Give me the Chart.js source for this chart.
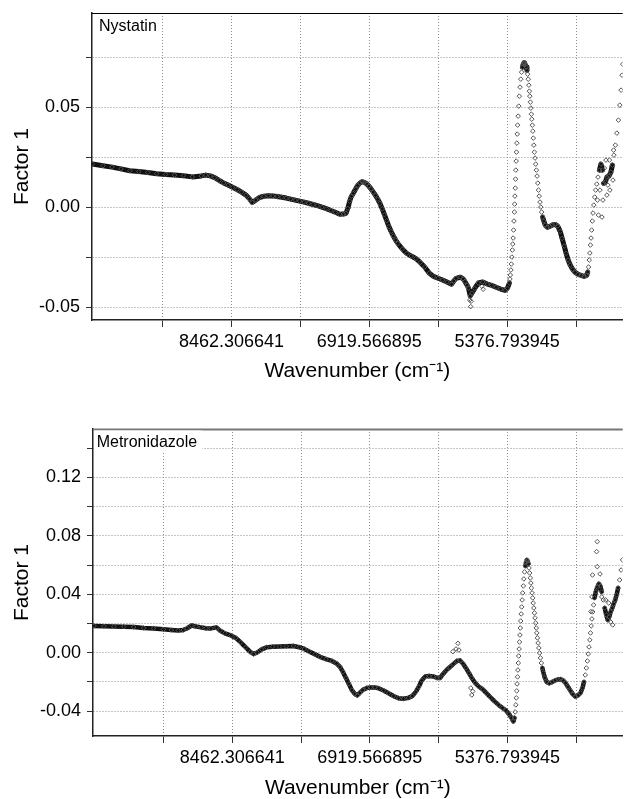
<!DOCTYPE html>
<html><head><meta charset="utf-8">
<script src="https://cdn.jsdelivr.net/npm/chart.js@4.4.0/dist/chart.umd.min.js"></script>
<style>
html,body{margin:0;padding:0;background:#fff;width:626px;height:799px;overflow:hidden}
#c1{position:absolute;left:0;top:0}
#c2{position:absolute;left:0;top:400px}
</style></head><body>
<canvas id="c1" width="626" height="400"></canvas>
<canvas id="c2" width="626" height="399"></canvas>
<script>
// ---------------- data ----------------
const xTickValues = [4605.424072, 5376.793945, 6148.18042, 6919.566895, 7690.936768, 8462.306641, 9233.676514];
const xTickLabels = ['', '5376.793945', '', '6919.566895', '', '8462.306641', ''];

const nystatinYTicks  = [-0.05, -0.025, 0, 0.025, 0.05, 0.075];
const nystatinYLabels = ['-0.05', '', '0.00', '', '0.05', ''];
const metronidazoleYTicks  = [-0.04, -0.02, 0, 0.02, 0.04, 0.06, 0.08, 0.10, 0.12, 0.14];
const metronidazoleYLabels = ['-0.04', '', '0.00', '', '0.04', '', '0.08', '', '0.12', ''];

const nystatinWavenumber = [
 10020,9900,9800,9700,9600,9500,9400,9300,9200,9100,9000,8900,8800,8750,8700,8650,8600,8550,8500,8450,
 8400,8350,8300,8260,8230,8190,8150,8100,8050,8000,7950,7900,7850,7800,7750,7700,7650,7600,7550,7500,
 7450,7400,7350,7300,7250,7210,7180,7160,7140,7120,7100,7075,7050,7025,7000,6975,6950,6925,6900,6875,
 6850,6825,6800,6775,6750,6725,6700,6675,6650,6625,6600,6550,6500,6450,6400,6350,6300,6250,6200,6150,
 6100,6050,6000,5975,5950,5900,5870,5850,5825,5810,5790,5770,5740,5700,5650,5600,5550,5500,5450,5400,
 5375,5352,5346,5341,5335,5330,5324,5319,5314,5310,5305,5301,5296,5293,5290,5286,5283,5280,5276,5273,
 5268,5264,5260,5254,5247,5241,5233,5224,5215,5205,5196,5188,5182,5174,5163,5155,5148,5141,5134,5128,
 5123,5117,5112,5106,5101,5095,5090,5084,5078,5072,5065,5057,5050,5042,5034,5026,5018,5009,5000,4991,
 4980,4966,4950,4927,4899,4872,4839,4811,4783,4761,4738,4716,4694,4671,4643,4616,4582,4549,4516,4488,
 4475,4466,4458,4451,4445,4438,4431,4424,4416,4407,4397,4386,4374,4360,4344,4327,4310,4297,4277,4260,
 4238,4216,4199,4182,4166,4149,4132,4116,4102,4091,4083];
const nystatinFactor = [
 0.0217,0.0208,0.0201,0.0192,0.0183,0.0179,0.0174,0.0168,0.0164,0.0161,0.0158,0.0152,0.0157,0.0161,0.0157,0.0148,0.0134,0.0122,0.0111,0.0100,
 0.0089,0.0076,0.0061,0.0042,0.0024,0.0036,0.0049,0.0055,0.0058,0.0057,0.0054,0.0050,0.0046,0.0041,0.0036,0.0031,0.0026,0.0020,0.0014,0.0008,
 0.0001,-0.0007,-0.0016,-0.0025,-0.0035,-0.0034,-0.0030,-0.0005,0.0030,0.0055,0.0069,0.0090,0.0109,0.0121,0.0128,0.0125,0.0117,0.0106,0.0092,0.0076,
 0.0059,0.0040,0.0019,-0.0008,-0.0037,-0.0067,-0.0097,-0.0121,-0.0144,-0.0164,-0.0181,-0.0209,-0.0231,-0.0244,-0.0256,-0.0276,-0.0299,-0.0329,-0.0346,-0.0355,
 -0.0364,-0.0374,-0.0385,-0.0369,-0.0356,-0.0350,-0.0358,-0.0371,-0.0390,-0.0404,-0.0444,-0.0429,-0.0406,-0.0379,-0.0374,-0.0384,-0.0391,-0.0400,-0.0409,-0.0416,
 -0.0406,-0.0379,-0.0359,-0.0339,-0.0314,-0.0284,-0.0249,-0.0214,-0.0184,-0.0154,-0.0114,-0.0069,-0.0024,0.0016,0.0056,0.0096,0.0141,0.0186,0.0231,0.0276,
 0.0321,0.0366,0.0411,0.0456,0.0506,0.0556,0.0601,0.0641,0.0676,0.0701,0.0716,0.0723,0.0721,0.0714,0.0702,0.0686,0.0666,0.0641,0.0611,0.0581,
 0.0556,0.0526,0.0496,0.0466,0.0441,0.0411,0.0381,0.0346,0.0311,0.0276,0.0246,0.0216,0.0186,0.0156,0.0121,0.0086,0.0056,0.0026,0.0001,-0.0024,
 -0.0049,-0.0069,-0.0089,-0.0100,-0.0096,-0.0089,-0.0086,-0.0094,-0.0121,-0.0156,-0.0194,-0.0231,-0.0264,-0.0289,-0.0311,-0.0326,-0.0336,-0.0341,-0.0346,-0.0341,
 -0.0324,-0.0299,-0.0264,-0.0229,-0.0189,-0.0154,-0.0114,-0.0069,-0.0029,0.0011,0.0051,0.0086,0.0116,0.0151,0.0186,0.0216,0.0186,0.0120,0.0126,0.0151,
 0.0156,0.0176,0.0211,0.0261,0.0311,0.0371,0.0436,0.0511,0.0586,0.0661,0.0716];
const nystatinScatterWavenumber = [5795,5785,5780,5660,5645,4366,4355,4338,4316,4305,4288,4271,4260,4249,4232,4227,4193,4185];
const nystatinScatterFactor     = [-0.0464,-0.0497,-0.0470,-0.0395,-0.0410,0.0036,-0.0039,0.0086,-0.0049,0.0036,0.0196,0.0236,0.0061,0.0111,0.0236,0.0086,0.0136,0.0286];

const metronidazoleWavenumber = [
 10012,9901,9790,9679,9567,9456,9345,9234,9145,9067,9011,8967,8917,8867,8811,8756,8700,8639,8600,8544,
 8478,8422,8367,8311,8260,8221,8182,8132,8077,8010,7933,7855,7777,7710,7654,7599,7532,7477,7410,7343,
 7293,7254,7221,7187,7154,7121,7087,7060,7032,6999,6954,6910,6865,6821,6765,6709,6654,6598,6543,6487,
 6443,6404,6371,6337,6298,6254,6209,6165,6131,6098,6059,6020,5981,5942,5909,5876,5842,5809,5776,5737,
 5698,5653,5609,5564,5520,5475,5431,5392,5359,5331,5309,5298,5289,5282,5277,5272,5268,5263,5259,5254,
 5250,5245,5241,5236,5232,5227,5222,5216,5211,5205,5198,5192,5184,5175,5166,5158,5150,5141,5134,5127,
 5120,5113,5107,5100,5093,5087,5080,5073,5067,5060,5053,5047,5040,5032,5024,5015,5006,4996,4985,4972,
 4956,4935,4907,4874,4841,4807,4779,4752,4724,4696,4668,4641,4615,4585,4557,4535,4518,4504,4491,4480,
 4470,4461,4452,4445,4437,4429,4420,4410,4399,4385,4368,4351,4335,4318,4301,4285,4268,4251,4235,4218,
 4201,4185,4168,4152,4135,4118,4101,4085];
const metronidazoleFactor = [
 0.0183,0.0181,0.0179,0.0178,0.0175,0.0169,0.0166,0.0160,0.0155,0.0151,0.0155,0.0167,0.0186,0.0179,0.0173,0.0167,0.0166,0.0173,0.0152,0.0132,
 0.0118,0.0101,0.0070,0.0036,0.0005,-0.0009,0.0001,0.0022,0.0036,0.0041,0.0042,0.0044,0.0046,0.0037,0.0025,0.0008,-0.0012,-0.0029,-0.0045,-0.0057,
 -0.0074,-0.0098,-0.0132,-0.0173,-0.0214,-0.0256,-0.0283,-0.0293,-0.0276,-0.0256,-0.0242,-0.0238,-0.0238,-0.0244,-0.0259,-0.0278,-0.0297,-0.0312,-0.0316,-0.0310,
 -0.0297,-0.0269,-0.0235,-0.0190,-0.0163,-0.0160,-0.0163,-0.0173,-0.0173,-0.0146,-0.0119,-0.0098,-0.0077,-0.0057,-0.0053,-0.0074,-0.0105,-0.0139,-0.0173,-0.0208,
 -0.0232,-0.0252,-0.0279,-0.0307,-0.0334,-0.0358,-0.0379,-0.0396,-0.0420,-0.0447,-0.0471,-0.0447,-0.0406,-0.0358,-0.0310,-0.0262,-0.0214,-0.0166,-0.0119,-0.0071,
 -0.0023,0.0025,0.0073,0.0121,0.0169,0.0217,0.0265,0.0313,0.0361,0.0409,0.0457,0.0505,0.0553,0.0594,0.0621,0.0635,0.0628,0.0608,0.0580,0.0546,
 0.0512,0.0477,0.0443,0.0409,0.0375,0.0340,0.0306,0.0272,0.0238,0.0203,0.0169,0.0135,0.0101,0.0066,0.0032,-0.0002,-0.0036,-0.0071,-0.0105,-0.0139,
 -0.0173,-0.0201,-0.0210,-0.0201,-0.0190,-0.0184,-0.0182,-0.0190,-0.0208,-0.0235,-0.0262,-0.0286,-0.0301,-0.0293,-0.0276,-0.0242,-0.0201,-0.0153,-0.0105,-0.0057,
 -0.0009,0.0039,0.0087,0.0135,0.0183,0.0231,0.0279,0.0327,0.0375,0.0416,0.0450,0.0471,0.0457,0.0416,0.0361,0.0306,0.0258,0.0224,0.0245,0.0279,
 0.0306,0.0333,0.0361,0.0395,0.0443,0.0498,0.0566,0.0635];
const metronidazoleScatterWavenumber = [4369,4377,4369,4422,4338,4429,4318,4440,4274,4240,4218,4196,5987,5931,5920,5953,5776,5787,5765];
const metronidazoleScatterFactor     = [0.0760,0.0692,0.0589,0.0532,0.0539,0.0382,0.0382,0.0281,0.0361,0.0340,0.0210,0.0190,0.0007,0.0064,0.0018,0.0025,-0.0290,-0.0242,-0.0265];

// ---------------- drawing ----------------
const FONT = "'Liberation Sans', Arial, Helvetica, sans-serif";
Chart.defaults.font.family = FONT;
Chart.defaults.color = '#000';

const X_MIN = 4083.6, X_MAX = 10023.4;

function pts(xs, ys) { return xs.map((x, i) => ({ x: x, y: ys[i] })); }
function steep(c) {
  const dx = Math.abs(c.p1.x - c.p0.x), dy = Math.abs(c.p1.y - c.p0.y);
  return dy > 4 * dx + 1;
}

const panelPlugin = {
  id: 'panel',
  afterDraw(chart, args, o) {
    const { ctx, chartArea: a } = chart;
    ctx.save();
    ctx.strokeStyle = o.frameColor; ctx.lineWidth = o.frameWidth;
    ctx.beginPath(); ctx.moveTo(a.left, a.top + 0.5); ctx.lineTo(a.right, a.top + 0.5); ctx.stroke();
    ctx.font = '16px ' + FONT;
    const w = ctx.measureText(o.text).width;
    ctx.fillStyle = '#fff';
    ctx.fillRect(a.left + 1, a.top + 1.5, o.dx + w + 4, 22);
    ctx.fillStyle = '#000';
    ctx.textBaseline = 'alphabetic';
    ctx.textAlign = 'left';
    ctx.fillText(o.text, a.left + o.dx, a.top + 17.7);
    ctx.restore();
  }
};

function makeChart(id, cfg) {
  const pointStyle = { pointStyle: 'rectRot', pointRadius: 2.3, pointBorderWidth: 1,
    pointBorderColor: '#555', pointBackgroundColor: 'rgba(0,0,0,0)', pointHoverRadius: 0 };
  const gridCommon = { color: '#8c8c8c', lineWidth: 1, tickColor: '#333', tickWidth: 1 };
  const borderCommon = { display: true, color: '#222', width: 1.5, dash: [1, 2] };
  return new Chart(document.getElementById(id), {
    type: 'scatter',
    data: { datasets: [
      Object.assign({ data: pts(cfg.wx, cfg.wy), showLine: true, borderColor: '#111',
        borderWidth: cfg.lineWidth, borderCapStyle: 'round', borderJoinStyle: 'round', tension: 0,
        segment: { borderColor: c => steep(c) ? 'rgba(0,0,0,0)' : '#111' } }, pointStyle),
      Object.assign({ data: pts(cfg.sx, cfg.sy), showLine: false }, pointStyle)
    ]},
    options: {
      responsive: false, animation: false, devicePixelRatio: 1, events: [],
      layout: { padding: { top: cfg.padTop, left: 0, right: 0, bottom: 0 } },
      plugins: { legend: { display: false }, tooltip: { enabled: false },
        panel: { text: cfg.label, dx: cfg.labelDx, frameColor: cfg.frameColor, frameWidth: cfg.frameWidth } },
      scales: {
        x: {
          type: 'linear', reverse: true, min: X_MIN, max: X_MAX,
          afterBuildTicks: s => { s.ticks = xTickValues.map(v => ({ value: v })); },
          afterFit: s => { s.height = cfg.xAxisHeight; s.paddingLeft = 0; s.paddingRight = 0; },
          ticks: { autoSkip: false, maxRotation: 0, minRotation: 0, padding: 4.5,
            font: { size: 18 }, color: '#000', callback: (v, i) => xTickLabels[i] },
          grid: Object.assign({ tickLength: 7 }, gridCommon),
          border: borderCommon,
          title: { display: true, text: 'Wavenumber (cm\u207B\u00B9)', color: '#000',
            font: { size: 21, lineHeight: 1 }, padding: { top: 0, bottom: cfg.xTitlePad } }
        },
        y: {
          type: 'linear', min: cfg.yMin, max: cfg.yMax,
          afterBuildTicks: s => { s.ticks = cfg.yTicks.map(v => ({ value: v })); },
          afterFit: s => { s.width = cfg.yAxisWidth; s.paddingTop = 0; s.paddingBottom = 0; },
          ticks: { padding: 6, font: { size: 18 }, color: '#000', callback: (v, i) => cfg.yLabels[i] },
          grid: Object.assign({ tickLength: 6 }, gridCommon),
          border: borderCommon,
          title: { display: true, text: 'Factor 1', color: '#000',
            font: { size: 21, lineHeight: 1 }, padding: { top: 12, bottom: 0 } }
        }
      }
    },
    plugins: [panelPlugin]
  });
}

makeChart('c1', {
  wx: nystatinWavenumber, wy: nystatinFactor, sx: nystatinScatterWavenumber, sy: nystatinScatterFactor,
  yTicks: nystatinYTicks, yLabels: nystatinYLabels, yMin: -0.0564, yMax: 0.0972,
  padTop: 13, xAxisHeight: 80, yAxisWidth: 92, xTitlePad: 18.5, lineWidth: 5,
  label: 'Nystatin', labelDx: 7, frameColor: '#000', frameWidth: 1.2
});
makeChart('c2', {
  wx: metronidazoleWavenumber, wy: metronidazoleFactor, sx: metronidazoleScatterWavenumber, sy: metronidazoleScatterFactor,
  yTicks: metronidazoleYTicks, yLabels: metronidazoleYLabels, yMin: -0.0571, yMax: 0.1532,
  padTop: 29, xAxisHeight: 63, yAxisWidth: 93, xTitlePad: 0, lineWidth: 4.5,
  label: 'Metronidazole', labelDx: 3.7, frameColor: '#777', frameWidth: 1.8
});
</script>
</body></html>
